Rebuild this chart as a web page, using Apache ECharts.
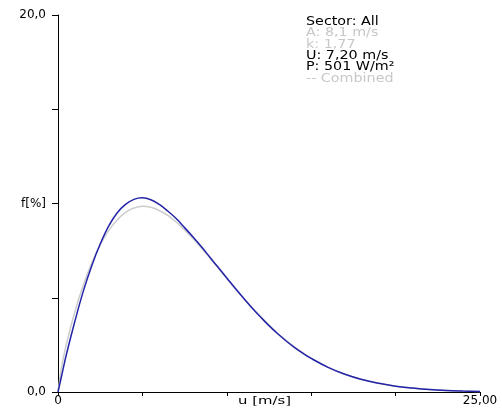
<!DOCTYPE html>
<html>
<head>
<meta charset="utf-8">
<script src="https://cdn.jsdelivr.net/npm/echarts@6/dist/echarts.min.js"></script>
<style>html,body{margin:0;padding:0;background:#fff}#c{width:502px;height:408px}</style>
</head>
<body>
<div id="c"></div>
<script>
// wind speed (m/s)
var speeds = [0,0.25,0.5,1,1.5,2,2.5,3,3.5,4,4.5,5,5.5,6,6.5,7,7.5,8,8.5,9,9.5,10,10.5,11,11.5,12,12.5,13,13.5,14,14.5,15,16,17,18,19,20,21,22,23,24,25];
// measured frequency (%) - blue
var measured = [0,1.0,2.0,3.75,5.35,6.7,7.85,8.8,9.5,9.95,10.22,10.3,10.2,9.95,9.6,9.2,8.72,8.22,7.7,7.15,6.6,6.05,5.5,4.97,4.46,3.98,3.52,3.1,2.72,2.37,2.06,1.78,1.31,0.94,0.66,0.46,0.31,0.21,0.13,0.08,0.05,0.03];
// combined Weibull fit (%) - grey
var combined = [0,1.5,2.55,4.26,5.67,6.84,7.8,8.56,9.13,9.53,9.76,9.85,9.8,9.63,9.37,9.02,8.6,8.14,7.63,7.1,6.56,6.02,5.48,4.96,4.46,3.99,3.54,3.12,2.74,2.39,2.07,1.79,1.31,0.94,0.66,0.46,0.31,0.21,0.13,0.085,0.05,0.03];
// y tick labels
var yTickLabels = {0:'0,0', 10:'f[%]', 20:'20,0'};
// x tick labels
var xTickLabels = {0:'0', 25:'25,00'};
var xName = 'u [m/s]';
// info box
var infoLines = [
  {t:'Sector: All', c:'#000'},
  {t:'A: 8,1 m/s', c:'#c8c8c8'},
  {t:'k: 1,77', c:'#c8c8c8'},
  {t:'U: 7,20 m/s', c:'#000'},
  {t:'P: 501 W/m\u00b2', c:'#000'},
  {t:'-- Combined', c:'#c8c8c8'}
];

function pairs(xs, ys){ return xs.map(function(x,i){return [x, ys[i]];}); }

var font = 'DejaVu Sans';
var chart = echarts.init(document.getElementById('c'), null, {renderer:'canvas'});
var graphics = infoLines.map(function(l,i){
  return {type:'text', x:306, y:16 + i*11.4, scaleX:1.3, scaleY:1.05,
    style:{text:l.t, fill:l.c, font:'11px "DejaVu Sans"'}};
});
graphics.push({type:'text', x:238, y:396, scaleX:1.35, scaleY:1,
  style:{text:xName, fill:'#000', font:'11px "DejaVu Sans"'}});
chart.setOption({
  animation:false,
  backgroundColor:'#fff',
  grid:{left:58, right:22, top:15, bottom:16, containLabel:false, outerBoundsMode:'none'},
  xAxis:{type:'value', min:0, max:25, interval:5,
    axisLine:{lineStyle:{color:'#000', width:1}},
    axisTick:{show:true, length:4, lineStyle:{color:'#000'}},
    axisLabel:{color:'#000', fontFamily:font, fontSize:12, margin:3,
      formatter:function(v){return xTickLabels[v] !== undefined ? xTickLabels[v] : '';}},
    splitLine:{show:false}},
  yAxis:{type:'value', min:0, max:20, interval:5,
    axisLine:{show:true, lineStyle:{color:'#000', width:1}},
    axisTick:{show:true, length:6, lineStyle:{color:'#000'}},
    axisLabel:{color:'#000', fontFamily:font, fontSize:12, margin:12,
      formatter:function(v){return yTickLabels[v] !== undefined ? yTickLabels[v] : '';}},
    splitLine:{show:false}},
  graphic:graphics,
  series:[
    {type:'line', data:pairs(speeds, combined), smooth:0.4, symbol:'none',
      lineStyle:{color:'#cccccc', width:1.5}, z:2},
    {type:'line', data:pairs(speeds, measured), smooth:0.4, symbol:'none',
      lineStyle:{color:'#2424a8', width:1.5}, z:3}
  ]
});
</script>
</body>
</html>
